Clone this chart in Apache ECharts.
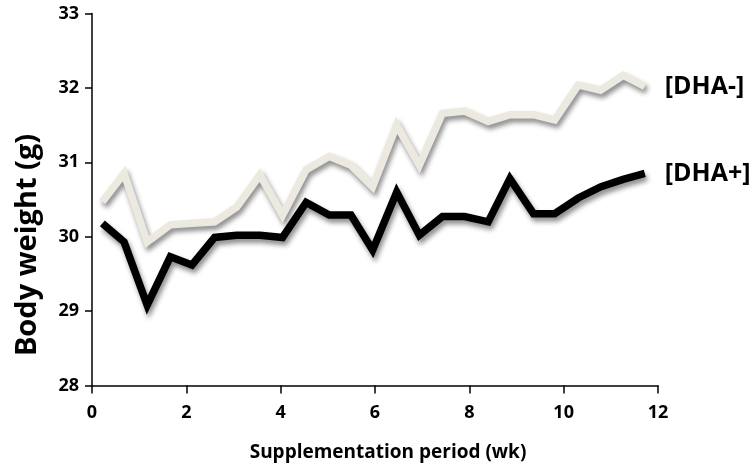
<!DOCTYPE html>
<html>
<head>
<meta charset="utf-8">
<script src="https://cdn.jsdelivr.net/npm/echarts@6/dist/echarts.min.js"></script>
<style>html,body{margin:0;padding:0;background:#fff}#c{width:755px;height:473px}</style>
</head>
<body>
<div id="c"></div>
<script>
// Time points (weeks)
const weeks = [0.22, 0.68, 1.17, 1.66, 2.12, 2.60, 3.07, 3.56, 4.04, 4.54, 5.03, 5.49, 5.95, 6.46, 6.94, 7.43, 7.90, 8.40, 8.86, 9.36, 9.81, 10.31, 10.78, 11.26, 11.72];
// Body weight (g)
const dhaMinus = [30.47, 30.85, 29.93, 30.16, 30.18, 30.20, 30.40, 30.83, 30.29, 30.90, 31.08, 30.96, 30.67, 31.50, 30.96, 31.66, 31.69, 31.55, 31.64, 31.64, 31.57, 32.04, 31.97, 32.17, 32.02];
const dhaPlus = [30.18, 29.93, 29.08, 29.73, 29.62, 29.99, 30.02, 30.02, 29.99, 30.46, 30.29, 30.29, 29.82, 30.60, 30.02, 30.27, 30.27, 30.20, 30.78, 30.31, 30.31, 30.52, 30.67, 30.77, 30.85];
const seriesNames = ['[DHA-]', '[DHA+]'];
const xTitle = 'Supplementation period (wk)';
const yTitle = 'Body weight (g)';

const FONT = '"Open Sans", sans-serif';
const chart = echarts.init(document.getElementById('c'));
function pairs(vals){ return weeks.map((w,i)=>[w, vals[i]]); }
function mkSeries(name, vals, color){
  return {
    name: name, type: 'line', data: pairs(vals), symbol: 'none', silent: true,
    lineStyle: {color: color, width: 7.5, join: 'miter', cap: 'butt',
      shadowColor: 'rgba(0,0,0,0.45)', shadowBlur: 5, shadowOffsetX: 2, shadowOffsetY: 4},
    endLabel: {show: true, formatter: '{a}', distance: 20, color: '#000',
      fontFamily: FONT, fontWeight: 'bold', fontSize: 25}
  };
}
chart.setOption({
  animation: false,
  backgroundColor: '#fff',
  grid: {left: 92, right: 97, top: 13.5, bottom: 87.5, containLabel: false},
  xAxis: {
    type: 'value', min: 0, max: 12, interval: 2,
    axisLine: {show: true, onZero: false, lineStyle: {color: '#000', width: 1.5}},
    axisTick: {show: true, length: 8, lineStyle: {color: '#000', width: 1.5}},
    axisLabel: {fontFamily: FONT, fontWeight: 'bold', fontSize: 18, color: '#000', margin: 18},
    splitLine: {show: false}
  },
  yAxis: {
    type: 'value', min: 28, max: 33, interval: 1,
    axisLine: {show: true, lineStyle: {color: '#000', width: 1.5}},
    axisTick: {show: true, length: 7, lineStyle: {color: '#000', width: 1.5}},
    axisLabel: {fontFamily: FONT, fontWeight: 'bold', fontSize: 18, color: '#000', margin: 13},
    splitLine: {show: false}
  },
  graphic: [{
    type: 'text', x: 28, y: 245, rotation: Math.PI / 2,
    style: {text: yTitle, fontFamily: FONT, fontWeight: 'bold', fontSize: 29, fill: '#000',
      align: 'center', verticalAlign: 'middle'}
  }, {
    type: 'text', x: 388, y: 453,
    style: {text: xTitle, fontFamily: FONT, fontWeight: 'bold', fontSize: 19, fill: '#000',
      align: 'center', verticalAlign: 'middle'}
  }],
  series: [
    mkSeries(seriesNames[0], dhaMinus, '#ECEAE0'),
    mkSeries(seriesNames[1], dhaPlus, '#000000')
  ]
});
</script>
</body>
</html>
